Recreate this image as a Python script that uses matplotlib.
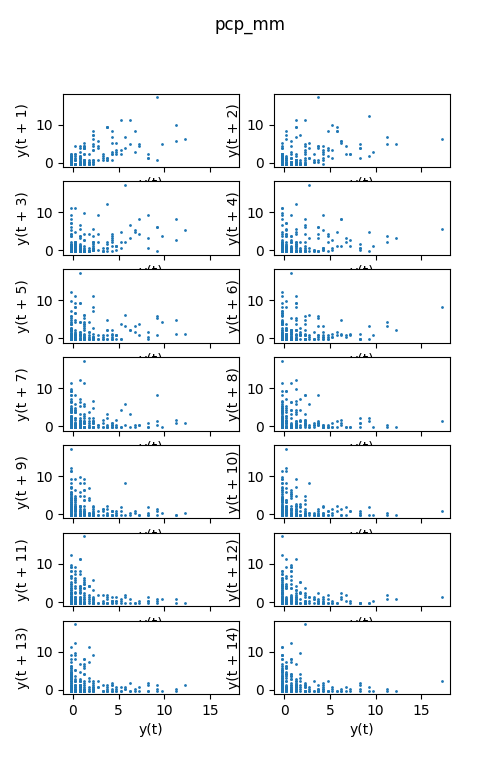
import numpy as np
import pandas as pd
import matplotlib
matplotlib.use("Agg")
import matplotlib.pyplot as plt

N = np.nan

# daily precipitation (mm)
pcp_mm = [
    -0.25, -0.25, 0.25, 0.75, -0.25, -0.25, 1.25, 0.75, -0.25, 0.25, 1.75, -0.25, -0.25, -0.25, 0.25, -0.25,
    0.75, 1.25, 4.25, 6.75, 2.75, 4.25, 5.25, 2.25, 3.25, 0.75, 0.25,
    -0.25, 0.25, -0.25, -0.25, 1.75, 0.25, 0.75, -0.25, -0.25, 0.75, 1.25, -0.25, 0.25, -0.25, -0.25,
    1.25, 5.25, 11.25, 9.75, 4.75, 2.75, 3.75, 1.25, 4.25, 0.75, -0.25,
    -0.25, 0.25, -0.25, 0.75, 0.25, -0.25, -0.25, 2.25, 0.25, -0.25, 1.25, 0.25, -0.25, -0.25, 1.25,
    0.75, 0.75, 2.75, 5.75, 3.75, 9.25, 17.25, N, 6.25, N, 5.75, N, 8.25, N, 1.25, N, 0.75, N, 1.25, N, 2.25, -0.25,
    -0.25, 0.25, -0.25, -0.25, 1.25, 0.75, 0.25, -0.25, -0.25, -0.25, 1.25, 2.25, -0.25, 0.25,
    2.25, 6.25, 11.25, 5.75, 6.75, 8.25, 2.25, 4.75, 3.25, 1.75, 0.25,
    -0.25, -0.25, 0.75, 1.75, -0.25, 0.25, -0.25, -0.25, 1.75, 0.75, -0.25, -0.25, 0.25, -0.25,
    1.75, 2.25, 7.25, 4.25, 2.25, 4.25, 2.75, 0.75, 1.25,
    0.25, -0.25, -0.25, 0.75, 0.25, -0.25, -0.25, 0.25, -0.25, 1.25, 0.75, -0.25, -0.25,
    1.25, 3.75, 9.25, N, 12.25, 6.25, 4.75, 5.25, 3.25, 1.25, 2.25, 0.75,
    -0.25, 0.25, -0.25, -0.25, 0.75, 1.25, -0.25, 0.25, -0.25, -0.25, 2.25, 0.25, -0.25, 0.25,
    2.25, 7.25, 4.75, 2.25, 8.25, 1.25, 3.75, 0.75, 0.25,
    -0.25, -0.25, 0.75, -0.25, 0.25, 0.75, -0.25, -0.25, 1.25, 0.25, -0.25, -0.25,
    0.25, 4.25, 8.25, 1.25, 3.75, 9.25, 0.75, 1.75, -0.25,
    -0.25, 0.75, -0.25, 0.25, 1.25, -0.25, 1.75, -0.25, -0.25, 0.25, -0.25, -0.25,
    0.75, 3.75, 1.25, 3.75, 0.75, 4.25, 2.25, 3.25, 2.25, 0.75, -0.25,
    0.25, -0.25, -0.25, 0.75, -0.25, 1.25, 0.25, -0.25, 1.25, -0.25,
]
lags = list(range(1, 15))

series = pd.Series(pcp_mm, name="pcp_mm")

fig, axes = plt.subplots(7, 2, figsize=(5, 7.8), sharex=True)
for lag, ax in zip(lags, axes.flat):
    pd.plotting.lag_plot(series, lag=lag, ax=ax, s=1)
fig.suptitle(series.name)

fig.savefig("out.png", dpi=100)
